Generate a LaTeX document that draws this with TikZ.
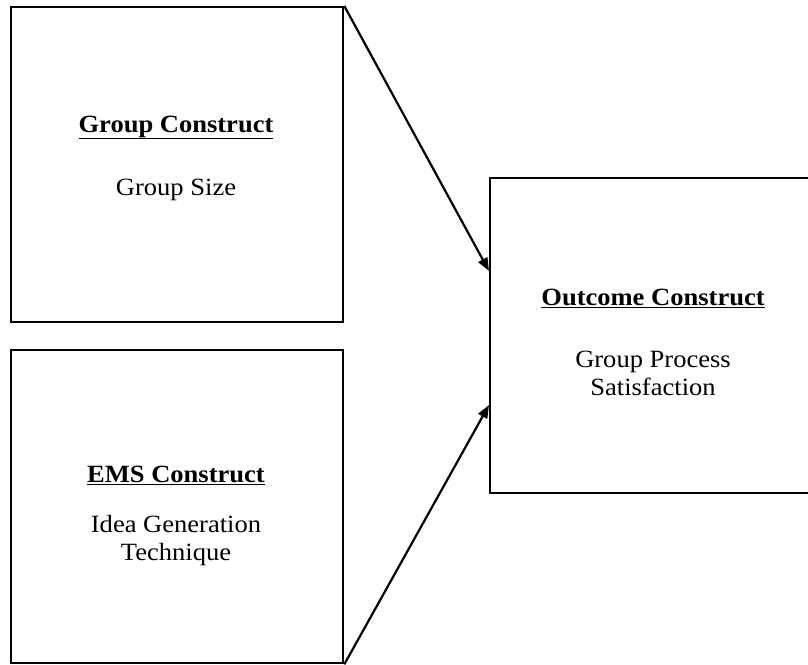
\documentclass[tikz,border=0pt]{standalone}
\usepackage{fontspec}
\setmainfont{Liberation Serif}
\usetikzlibrary{arrows.meta,calc}
% text set slightly wide, as in the printed figure
\newcommand{\widetext}[1]{\scalebox{1.07}[1]{#1}}
\newcommand{\heading}[1]{\widetext{\bfseries\underline{#1}}}
\begin{document}
\begin{tikzpicture}[x=1pt,y=-1pt,
  construct/.style={draw, line width=2.3pt, rectangle, inner sep=0pt, anchor=north west},
  label/.style={anchor=base, inner sep=0pt, font=\fontsize{24.8}{28}\selectfont},
  link/.style={line width=2.2pt, -{Triangle[length=13pt,width=10pt]}}]
  \useasboundingbox (0,0) rectangle (808,664);

  % the three construct boxes
  \node[construct, minimum width=332pt, minimum height=315pt] (group) at (10,6) {};
  \node[construct, minimum width=332pt, minimum height=313pt] (ems) at (10,349) {};
  \node[construct, minimum width=328pt, minimum height=315pt] (outcome) at (489,177) {};

  % texts
  \node[label] (grouptitle) at (176,132) {\heading{Group Construct}};
  \node[label] (groupsize) at (176,195) {\widetext{Group Size}};
  \node[label] (emstitle) at (176,482) {\heading{EMS Construct}};
  \node[label] (emsline1) at (176,532) {\widetext{Idea Generation}};
  \node[label] (emsline2) at (176,560) {\widetext{Technique}};
  \node[label] (outtitle) at (653,305) {\heading{Outcome Construct}};
  \node[label] (outline1) at (653,367) {\widetext{Group Process}};
  \node[label] (outline2) at (653,395) {\widetext{Satisfaction}};

  % arrow end points on the left side of the outcome box
  \coordinate (in1) at ($(outcome.north west)+(0,94)$);
  \coordinate (in2) at ($(outcome.north west)+(0,228)$);

  \draw[link] (group.north east) -- (in1);
  \draw[link] (ems.south east) -- (in2);
\end{tikzpicture}
\end{document}
